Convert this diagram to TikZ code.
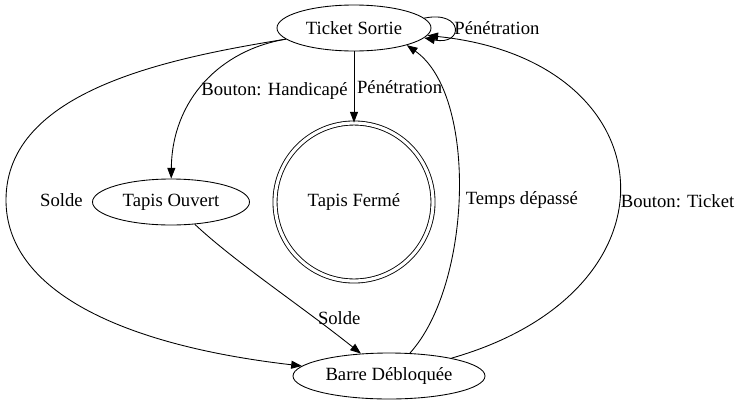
\documentclass[tikz,border=0pt]{standalone}
\usepackage{fontspec}
\setmainfont{Liberation Serif}
\usepackage{tikz}
\usetikzlibrary{arrows.meta,shapes.geometric,positioning}

\begin{document}
\begin{tikzpicture}[x=0.75pt, y=-0.75pt, % 像素坐标,y 轴向下
    line width=0.65pt,
    >={Triangle[length=8pt,width=6pt]},
    every node/.style={font=\fontsize{14}{17}\selectfont},
    etat/.style={ellipse, draw, inner sep=0pt, minimum height=34.5pt},
    final/.style={circle, draw, double, double distance=2.4pt,
      inner sep=0pt, minimum size=118.5pt},
    lbl/.style={inner sep=2pt}]
  \useasboundingbox (0,0) rectangle (738,404);
  % 四个状态
  \node[etat, minimum width=115.5pt] (ts) at (354,28) {Ticket Sortie};
  \node[etat, minimum width=117.75pt] (to) at (171,202) {Tapis Ouvert};
  \node[final] (tf) at (354,202) {Tapis Fermé};
  \node[etat, minimum width=144pt] (bd) at (389,376) {Barre Débloquée};
  \coordinate (sl) at (6,200);
  % 从 Ticket Sortie 出发
  \draw[->] (ts) .. controls (220,50) and (172,100) .. (to)
    node[lbl, pos=0.55, right] (l1) {Bouton: Handicapé};
  \draw[->] (ts) -- (tf)
    node[lbl, midway, right] (l2) {Pénétration};
  \draw[->] (ts.8) .. controls (464,10) and (464,46) .. (ts.-8)
    node[pos=0.5, right, inner sep=0pt] (l3) {Pénétration};
  \draw[->] (ts) .. controls (170,58) and (6,90) .. (sl)
    node[at end, right=22pt] (l4) {Solde}
    .. controls (6,290) and (120,345) .. (bd);
  % 其余的边
  \draw[->] (to) .. controls (235,262) and (300,305) .. (bd)
    node[lbl, pos=0.75, right] (l5) {Solde};
  \draw[->] (bd) .. controls (472,285) and (478,95) .. (ts.-18)
    node[pos=0.48, right=2pt] (l6) {Temps dépassé};
  \draw[->] (bd) .. controls (690,290) and (668,60) .. (ts)
    node[lbl, pos=0.45, right, inner sep=1pt] (l7) {Bouton: Ticket};
\end{tikzpicture}
\end{document}
